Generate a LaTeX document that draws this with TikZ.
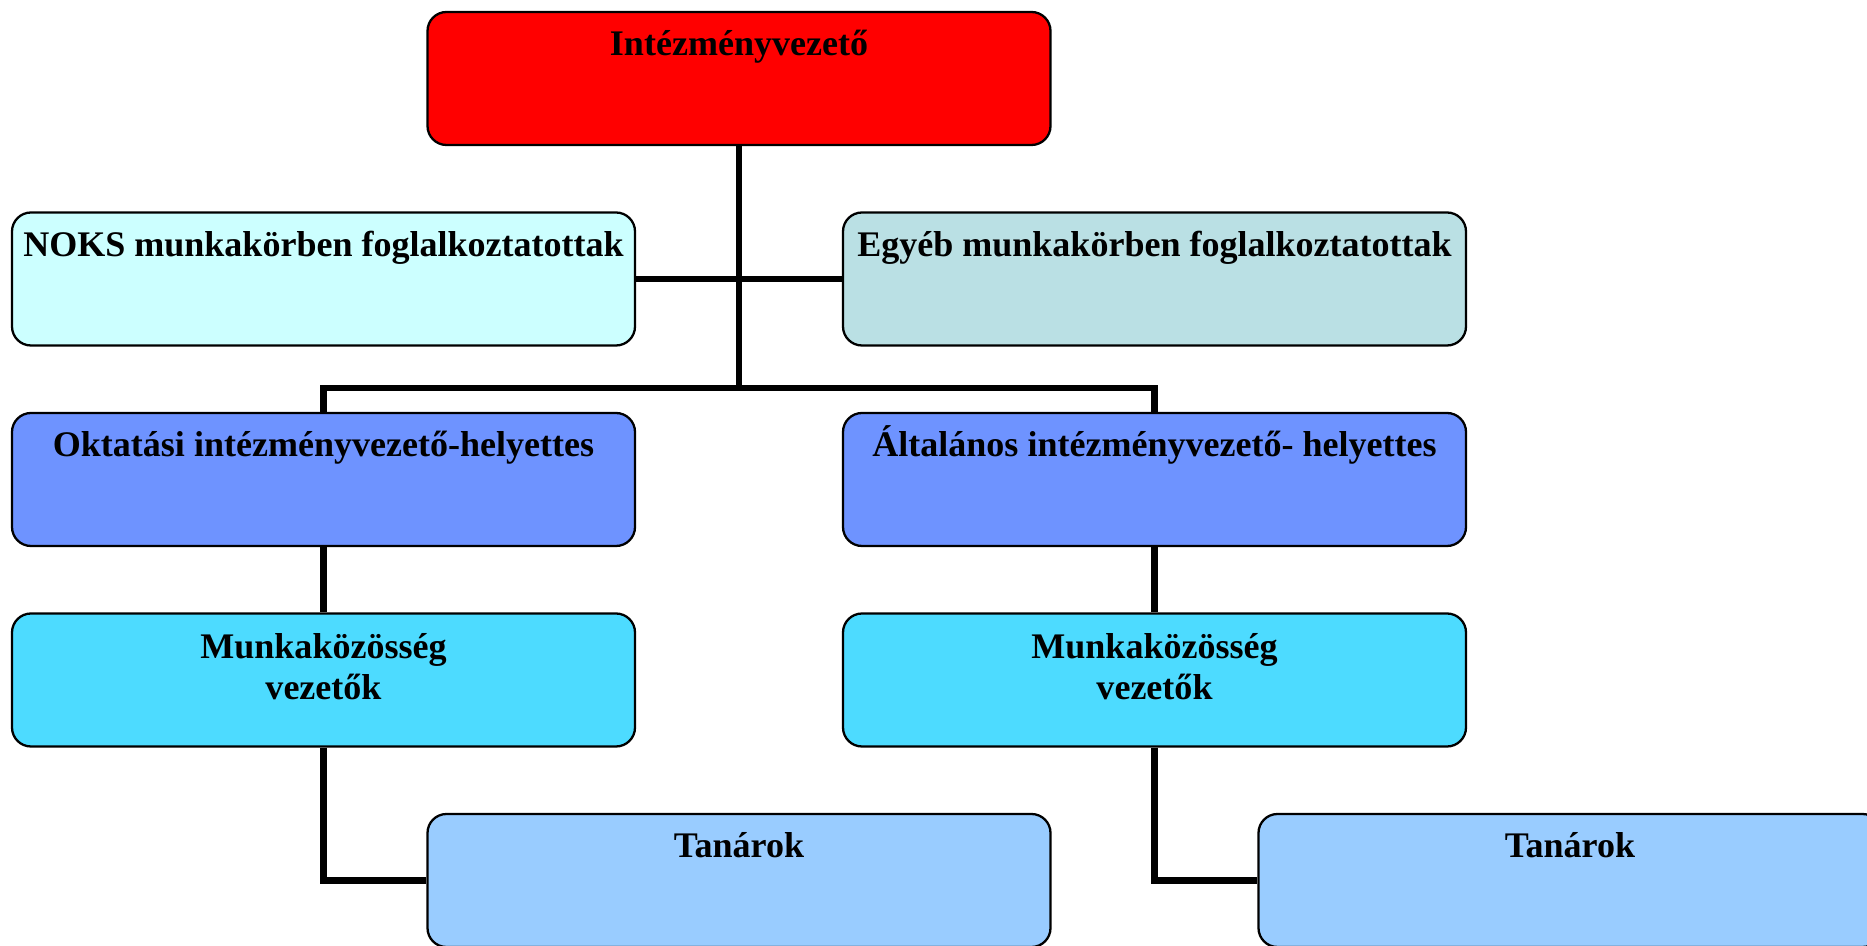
\documentclass[tikz,border=0pt]{standalone}
\usepackage{fontspec}
\setmainfont{Liberation Serif}
\usepackage{xcolor}
\usetikzlibrary{positioning}

\definecolor{bossred}{HTML}{FF0000}
\definecolor{noksfill}{HTML}{CCFFFF}
\definecolor{egyebfill}{HTML}{BAE0E4}
\definecolor{helyfill}{HTML}{6E93FF}
\definecolor{mkfill}{HTML}{4DDBFF}
\definecolor{tanfill}{HTML}{99CCFF}

\tikzset{
  orgbox/.style={draw, line width=1.3pt, rounded corners=0.38cm, minimum width=12.46cm,
    minimum height=2.66cm, inner sep=0pt},
  boxtext/.style={anchor=north, inner sep=0pt, align=center, yshift=-0.27cm,
    font=\bfseries\fontsize{20.5}{23.6}\selectfont, execute at begin node=\vphantom{Á}},
  conn/.style={line width=3.6pt},
}

\begin{document}
\begin{tikzpicture} [node distance = 4.01cm and 8.31cm, on grid]

        \useasboundingbox (0,0) rectangle (37.34,-18.92);

        \node (boss) [orgbox, fill=bossred, label={[boxtext]north:Intézményvezető}] at (14.78,-1.57) {};
        \node (noks) [orgbox, fill=noksfill, below left = of boss,
            label={[boxtext]north:NOKS munkakörben foglalkoztatottak}] {};
        \node (egyeb) [orgbox, fill=egyebfill, below right = of boss,
            label={[boxtext]north:Egyéb munkakörben foglalkoztatottak}] {};
        \node (oktat) [orgbox, fill=helyfill, below = of noks,
            label={[boxtext]north:Oktatási intézményvezető-helyettes}] {};
        \node (altal) [orgbox, fill=helyfill, below = of egyeb,
            label={[boxtext]north:Általános intézményvezető- helyettes}] {};
        \node (mkl) [orgbox, fill=mkfill, below = of oktat,
            label={[boxtext, yshift=-0.14cm]north:Munkaközösség\\vezetők}] {};
        \node (mkr) [orgbox, fill=mkfill, below = of altal,
            label={[boxtext, yshift=-0.14cm]north:Munkaközösség\\vezetők}] {};
        \node (tanl) [orgbox, fill=tanfill, below right = of mkl,
            label={[boxtext]north:Tanárok}] {};
        \node (tanr) [orgbox, fill=tanfill, below right = of mkr,
            label={[boxtext]north:Tanárok}] {};

        \coordinate [above = 0.48cm of oktat.north] (bus);

        \path [conn]
            (noks.east) edge (egyeb.west)
            (boss.south) edge (boss.south |- bus);
        \draw [conn] (oktat.north) |- (bus) -| (altal.north);
        \draw [conn] (oktat.south) -- (mkl.north);
        \draw [conn] (altal.south) -- (mkr.north);
        \draw [conn] (mkl.south) |- (tanl.west);
        \draw [conn] (mkr.south) |- (tanr.west);

    \end{tikzpicture}
\end{document}
